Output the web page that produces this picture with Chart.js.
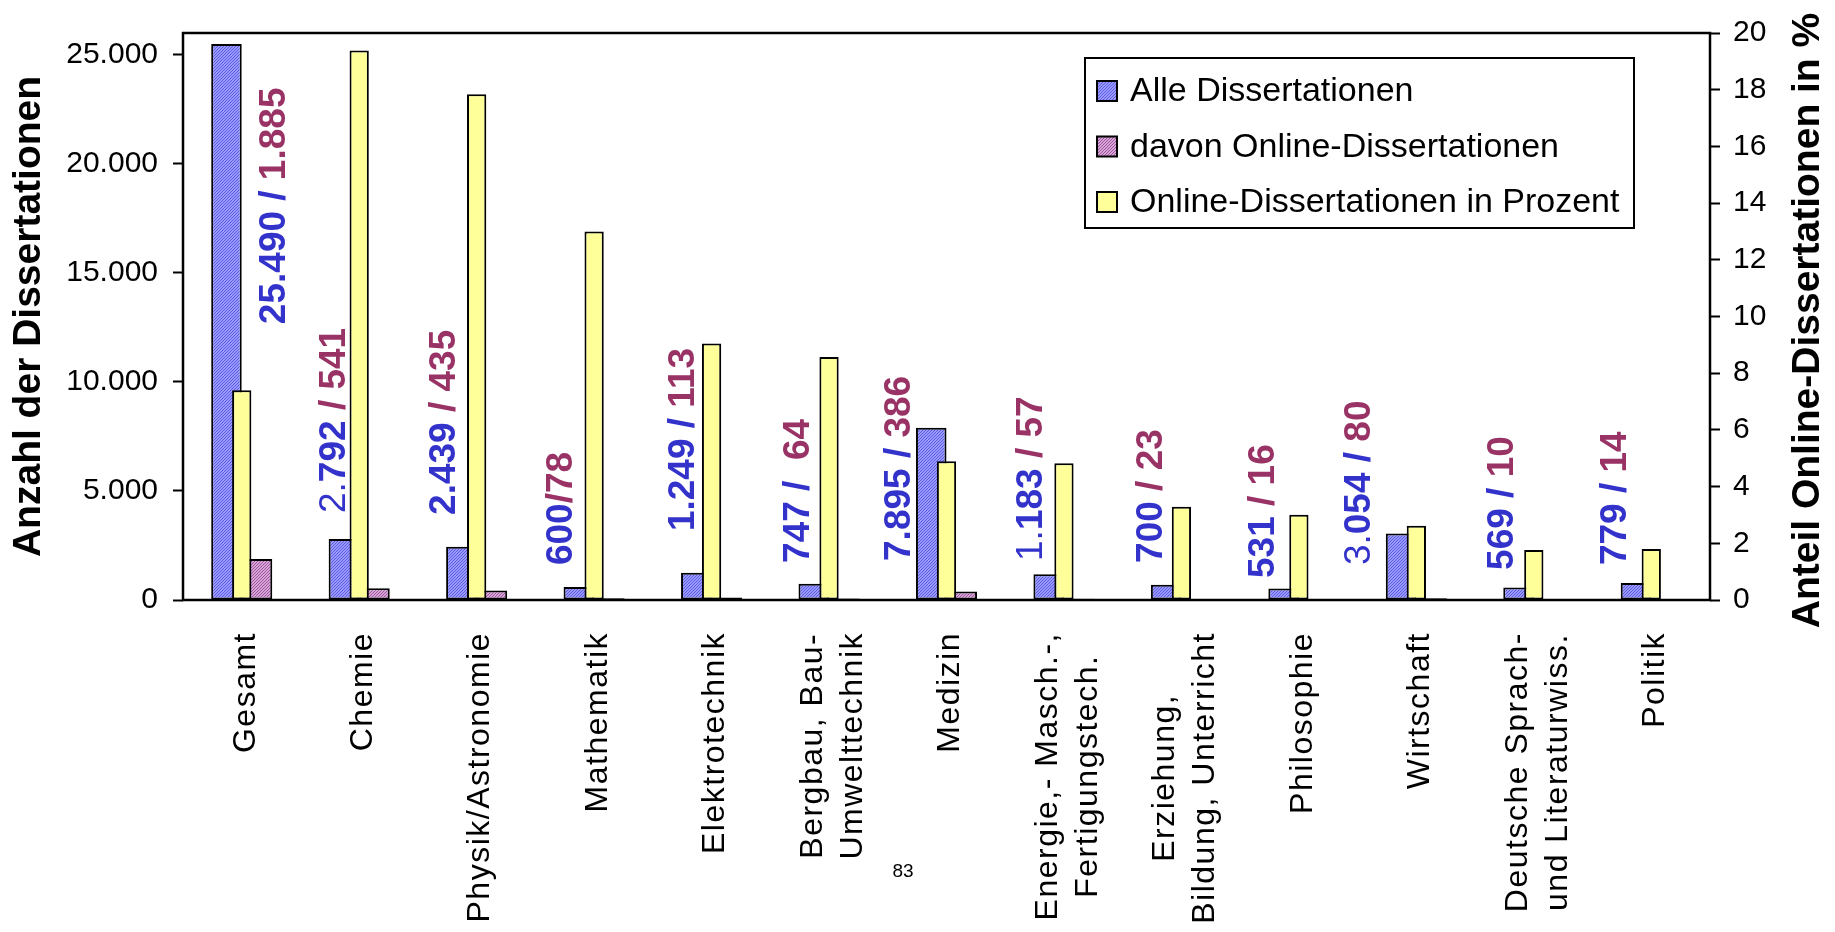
<!DOCTYPE html>
<html lang="de">
<head>
<meta charset="utf-8">
<title>Dissertationen und Online-Dissertationen nach Fächern</title>
<script src="https://cdn.jsdelivr.net/npm/chart.js@4.4.0/dist/chart.umd.min.js"></script>
<style>
  html, body { margin: 0; padding: 0; background: #fff; }
  #wrap { width: 1835px; height: 932px; }
</style>
</head>
<body>
<div id="wrap"><canvas id="dissChart" width="1835" height="932"></canvas></div>
<script>
const categories = [
  'Gesamt', 'Chemie', 'Physik/Astronomie', 'Mathematik', 'Elektrotechnik',
  ['Bergbau, Bau-', 'Umwelttechnik'], 'Medizin',
  ['Energie,- Masch.-,', 'Fertigungstech.'], ['Erziehung,', 'Bildung, Unterricht'],
  'Philosophie', 'Wirtschaft', ['Deutsche Sprach-', 'und Literaturwiss.'], 'Politik'
];
const allDiss    = [25490, 2792, 2439, 600, 1249, 747, 7895, 1183, 700, 531, 3054, 569, 779];
const onlineDiss = [1885, 541, 435, 78, 113, 64, 386, 57, 23, 16, 80, 10, 14];
const onlinePct  = [7.40, 19.38, 17.84, 13.0, 9.05, 8.57, 4.89, 4.82, 3.29, 3.01, 2.62, 1.76, 1.80];

const leftTicks  = [0, 5000, 10000, 15000, 20000, 25000];
const rightTicks = [0, 2, 4, 6, 8, 10, 12, 14, 16, 18, 20];

// text of the value notes: thin prefix, blue part, red part
const noteThin = ['', '2.', '', '', '', '', '', '1.', '', '', '3.', '', ''];
const noteBlue = ['25.490 /', '792 ', '2.439 ', '600', '1.249 / ', '747 /  ', '7.895 / ', '183 ', '700 ', '531 ', '054 / ', '569 / ', '779 / '];
const noteRed  = [' 1.885', '/ 541', '/ 435', '/78', '113', '64', '386', '/ 57', '/ 23', '/ 16', '80', '10', '14'];

// placement of the notes (shift from category centre in px, start on left axis)
const noteDx    = [30, -27, -35, -35, -31, -33, -50, -35, -32, -38, -59, -34, -38];
const noteStart = [12650, 3990, 3900, 1600, 3160, 1700, 1790, 1790, 1700, 1010, 1600, 1380, 1600];

const FONT = '"Liberation Sans", Arial, Helvetica, sans-serif';
const BLUE_TXT = '#3333cc';
const RED_TXT = '#993366';

Chart.defaults.font.family = FONT;
Chart.defaults.color = '#000';

const hatch = (bg, fg) => {
  const c = document.createElement('canvas');
  c.width = c.height = 3;
  const g = c.getContext('2d');
  g.fillStyle = bg;
  g.fillRect(0, 0, 3, 3);
  g.fillStyle = fg;
  for (let i = 0; i < 3; i++) g.fillRect(i, 2 - i, 1, 1);
  return g.createPattern(c, 'repeat');
};

const bluePat = hatch('#9999ff', '#5c5ce0');
const pinkPat = hatch('#d9a3d9', '#9a5a9a');
const yellow = '#ffff99';

const fmt = v => String(v).replace(/\B(?=(\d{3})+(?!\d))/g, '.');

const axisTicks = {
  display: true,
  drawOnChartArea: false,
  drawTicks: true,
  tickLength: 10,
  tickColor: '#000',
  tickWidth: 2
};

const decor = {
  id: 'decor',
  afterDatasetsDraw(chart) {
    const { ctx, chartArea: a } = chart;
    ctx.save();
    ctx.strokeStyle = '#000';
    ctx.lineWidth = 2.5;
    ctx.strokeRect(a.left, a.top, a.right - a.left, a.bottom - a.top);
    ctx.restore();
  },
  afterDraw(chart) {
    const { ctx, chartArea: a, scales } = chart;
    const x = scales.x, y = scales.y;

    // value notes
    categories.forEach((c, i) => {
      const cx = x.getPixelForValue(i) + noteDx[i];
      const cy = y.getPixelForValue(noteStart[i]);
      ctx.save();
      ctx.translate(cx + 13, cy);
      ctx.rotate(-Math.PI / 2);
      ctx.textAlign = 'left';
      ctx.textBaseline = 'alphabetic';
      let pos = 0;
      [[noteThin[i], 'normal', BLUE_TXT], [noteBlue[i], 'bold', BLUE_TXT], [noteRed[i], 'bold', RED_TXT]]
        .forEach(([t, w, col]) => {
          if (!t) return;
          ctx.font = `${w} 37px ${FONT}`;
          ctx.fillStyle = col;
          ctx.fillText(t, pos, 0);
          pos += ctx.measureText(t).width;
        });
      ctx.restore();
    });

    // category labels, rotated, lines centred on each other
    ctx.save();
    ctx.font = `32px ${FONT}`;
    ctx.letterSpacing = '1.5px';
    ctx.fillStyle = '#000';
    categories.forEach((lab, i) => {
      const lines = Array.isArray(lab) ? lab : [lab];
      const w = Math.max(...lines.map(l => ctx.measureText(l).width));
      const cx = x.getPixelForValue(i) + 4;
      const top = a.bottom + 32;
      lines.forEach((l, k) => {
        ctx.save();
        ctx.translate(cx + (k - (lines.length - 1) / 2) * 40, top + w / 2);
        ctx.rotate(-Math.PI / 2);
        ctx.textAlign = 'center';
        ctx.textBaseline = 'middle';
        ctx.fillText(l, 0, 0);
        ctx.restore();
      });
    });
    ctx.restore();

    // right axis title (reads upward like the left one)
    ctx.save();
    ctx.translate(1808, (a.top + a.bottom) / 2 + 4);
    ctx.rotate(-Math.PI / 2);
    ctx.font = `bold 39px ${FONT}`;
    ctx.fillStyle = '#000';
    ctx.textAlign = 'center';
    ctx.textBaseline = 'middle';
    ctx.fillText('Anteil Online-Dissertationen in %', 0, 0);
    ctx.restore();

    // legend box
    const bw = 549, bh = 170;
    const bx = a.right - 76 - bw, by = a.top + 25;
    ctx.save();
    ctx.fillStyle = '#fff';
    ctx.fillRect(bx, by, bw, bh);
    ctx.strokeStyle = '#000';
    ctx.lineWidth = 2;
    ctx.strokeRect(bx, by, bw, bh);
    ctx.font = `34px ${FONT}`;
    ctx.textBaseline = 'middle';
    ctx.textAlign = 'left';
    chart.data.datasets.forEach((ds, k) => {
      const ry = by + 33 + k * 55.5;
      ctx.fillStyle = ds.backgroundColor;
      ctx.fillRect(bx + 12, ry - 10, 20, 20);
      ctx.lineWidth = 2;
      ctx.strokeRect(bx + 12, ry - 10, 20, 20);
      ctx.fillStyle = '#000';
      ctx.fillText(ds.label, bx + 45, ry + 1);
    });
    ctx.restore();

    // page number
    ctx.save();
    ctx.font = `19px "Liberation Sans Narrow", ${FONT}`;
    ctx.fillStyle = '#000';
    ctx.textAlign = 'center';
    ctx.textBaseline = 'middle';
    ctx.fillText('83', 903, 872);
    ctx.restore();
  }
};

const barStyle = { borderColor: '#000', borderWidth: 2, borderSkipped: false, xAxisID: 'x' };

new Chart(document.getElementById('dissChart'), {
  type: 'bar',
  data: {
    labels: categories,
    datasets: [
      { label: 'Alle Dissertationen', data: allDiss, backgroundColor: bluePat,
        yAxisID: 'y', order: 1, categoryPercentage: 0.52, barPercentage: 1, ...barStyle },
      { label: 'davon Online-Dissertationen', data: onlineDiss, backgroundColor: pinkPat,
        yAxisID: 'y', order: 1, categoryPercentage: 0.52, barPercentage: 1, ...barStyle },
      // percentage bars sit centred over the pair, drawn on top
      { label: 'Online-Dissertationen in Prozent', data: onlinePct, backgroundColor: yellow,
        yAxisID: 'y2', order: 0, grouped: false, barPercentage: 0.205, ...barStyle }
    ]
  },
  options: {
    responsive: false,
    animation: false,
    layout: { padding: { top: 33, left: 0, right: 0, bottom: 0 } },
    plugins: { legend: { display: false }, tooltip: { enabled: false } },
    scales: {
      x: {
        type: 'category', position: 'bottom', offset: true,
        grid: { display: false, offset: true }, border: { display: false },
        ticks: { display: false },
        afterFit: s => { s.height = 332; }
      },
      y: {
        position: 'left', min: 0, max: 26000,
        afterBuildTicks: s => { s.ticks = leftTicks.map(v => ({ value: v })); },
        ticks: { font: { size: 30 }, padding: 15, color: '#000', callback: v => fmt(v) },
        grid: axisTicks, border: { display: false },
        title: { display: true, text: 'Anzahl der Dissertationen', color: '#000',
          font: { size: 39, weight: 'bold' }, padding: { top: 6, bottom: 0 } },
        afterFit: s => { s.width = 183; }
      },
      y2: {
        position: 'right', min: 0, max: 20,
        afterBuildTicks: s => { s.ticks = rightTicks.map(v => ({ value: v })); },
        ticks: { font: { size: 30 }, padding: 13, color: '#000' },
        grid: axisTicks, border: { display: false },
        afterFit: s => { s.width = 125; }
      }
    }
  },
  plugins: [decor]
});
</script>
</body>
</html>
